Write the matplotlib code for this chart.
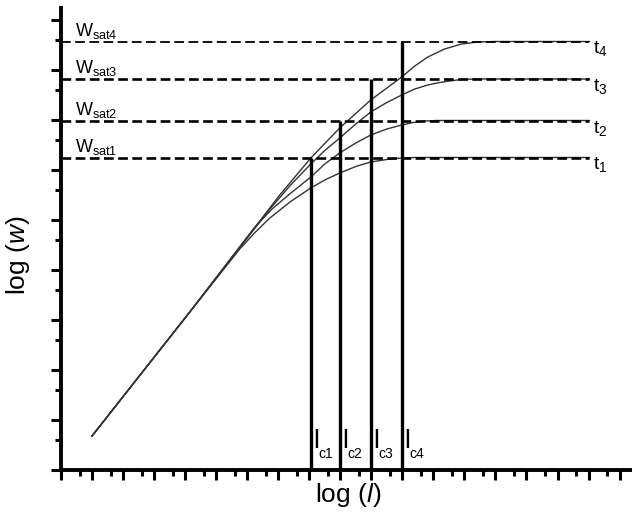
import numpy as np
import matplotlib
matplotlib.use("Agg")
import matplotlib.pyplot as plt

plt.rcParams['font.family'] = 'Liberation Sans'
plt.rcParams['mathtext.fontset'] = 'custom'
plt.rcParams['mathtext.rm'] = 'Liberation Sans'
plt.rcParams['mathtext.it'] = 'Liberation Sans:italic'
plt.rcParams['lines.scale_dashes'] = False

# curves log(w) vs log(l)
t4_x = [1.0, 4.15, 7.05, 8.05, 8.98, 9.98, 10.98, 11.40, 11.82, 12.36, 12.91, 13.43, 13.97, 17.03]
t4_y = [0.68, 3.16, 5.50, 6.24, 6.84, 7.40, 7.86, 8.08, 8.26, 8.42, 8.52, 8.56, 8.57, 8.57]
t3_x = [1.0, 4.15, 6.73, 7.40, 8.05, 8.50, 8.98, 9.50, 9.98, 10.50, 10.98, 11.40, 11.82,
        12.20, 12.52, 12.90, 13.33, 17.03]
t3_y = [0.68, 3.16, 5.22, 5.70, 6.12, 6.39, 6.64, 6.92, 7.16, 7.35, 7.50, 7.62, 7.70,
        7.75, 7.78, 7.81, 7.82, 7.82]
t2_x = [1.0, 4.15, 6.25, 6.80, 7.37, 8.05, 8.50, 8.98, 9.50, 9.98, 10.50, 10.98, 11.35,
        11.72, 12.10, 17.03]
t2_y = [0.68, 3.16, 4.86, 5.22, 5.52, 5.86, 6.12, 6.34, 6.54, 6.70, 6.82, 6.90, 6.95,
        6.98, 6.99, 6.99]
t1_x = [1.0, 4.15, 5.76, 6.25, 6.73, 7.40, 8.05, 8.50, 8.98, 9.50, 9.98, 10.50, 10.98,
        11.40, 17.03]
t1_y = [0.68, 3.16, 4.42, 4.75, 5.04, 5.37, 5.64, 5.80, 5.94, 6.07, 6.16, 6.21, 6.24,
        6.25, 6.25]

curves_x = [t1_x, t2_x, t3_x, t4_x]
curves_y = [t1_y, t2_y, t3_y, t4_y]
t_labels = ['$\\mathrm{t_1}$', '$\\mathrm{t_2}$', '$\\mathrm{t_3}$', '$\\mathrm{t_4}$']

w_sat = [6.24, 6.98, 7.82, 8.56]
w_labels = ['$\\mathrm{W_{sat1}}$', '$\\mathrm{W_{sat2}}$', '$\\mathrm{W_{sat3}}$', '$\\mathrm{W_{sat4}}$']
l_c = [8.05, 8.98, 9.98, 10.98]
lc_subs = ['c1', 'c2', 'c3', 'c4']

fig = plt.figure(figsize=(6.32, 5.14), dpi=100)
ax = fig.add_axes([61/632, 44/514, 571/632, 462/514])
ax.set_xlim(0, 18.4)
ax.set_ylim(0, 9.24)

for xs, ys in zip(curves_x, curves_y):
    ax.plot(xs, ys, color='#333333', lw=1.0, zorder=2)

end_x = t4_x[-1]
for i, ws in enumerate(w_sat):
    lw = 1.3 if i == 3 else 1.9
    ax.plot([0, end_x], [ws, ws], color='black', lw=lw, dashes=(7, 3.2), zorder=3)
    ax.text(0.45, ws + 0.02, w_labels[i], fontsize=13, ha='left', va='bottom')
    ax.text(end_x + 0.1, ws + 0.05, t_labels[i], fontsize=14, ha='left', va='top')

for i, lc in enumerate(l_c):
    ax.plot([lc, lc], [0, w_sat[i]], color='black', lw=2.4, solid_capstyle='butt', zorder=4)
    ax.text(lc + 0.08, 0.44, 'l', fontsize=19, ha='left', va='baseline')
    ax.text(lc + 0.25, 0.24, lc_subs[i], fontsize=10, ha='left', va='baseline')

for s in ['top', 'right']:
    ax.spines[s].set_visible(False)
for s in ['left', 'bottom']:
    ax.spines[s].set_linewidth(2.8)

ax.set_xticks(np.arange(0, 19))
ax.set_xticks(np.arange(1, 19) - 0.4, minor=True)
ax.set_yticks(np.arange(0, 10))
ax.set_yticks(np.arange(0, 9) + 0.6, minor=True)
ax.tick_params(which='major', direction='out', length=7, width=2.2,
               labelbottom=False, labelleft=False)
ax.tick_params(which='minor', direction='out', length=4, width=2.2)

ax.set_xlabel('log ($\\mathit{l}$)', fontsize=19)
ax.xaxis.set_label_coords(0.503, -0.024)
ax.set_ylabel('log ($\\mathit{w}$)', fontsize=19)
ax.yaxis.set_label_coords(-0.05, 0.465)

fig.savefig('out.png', dpi=100)
